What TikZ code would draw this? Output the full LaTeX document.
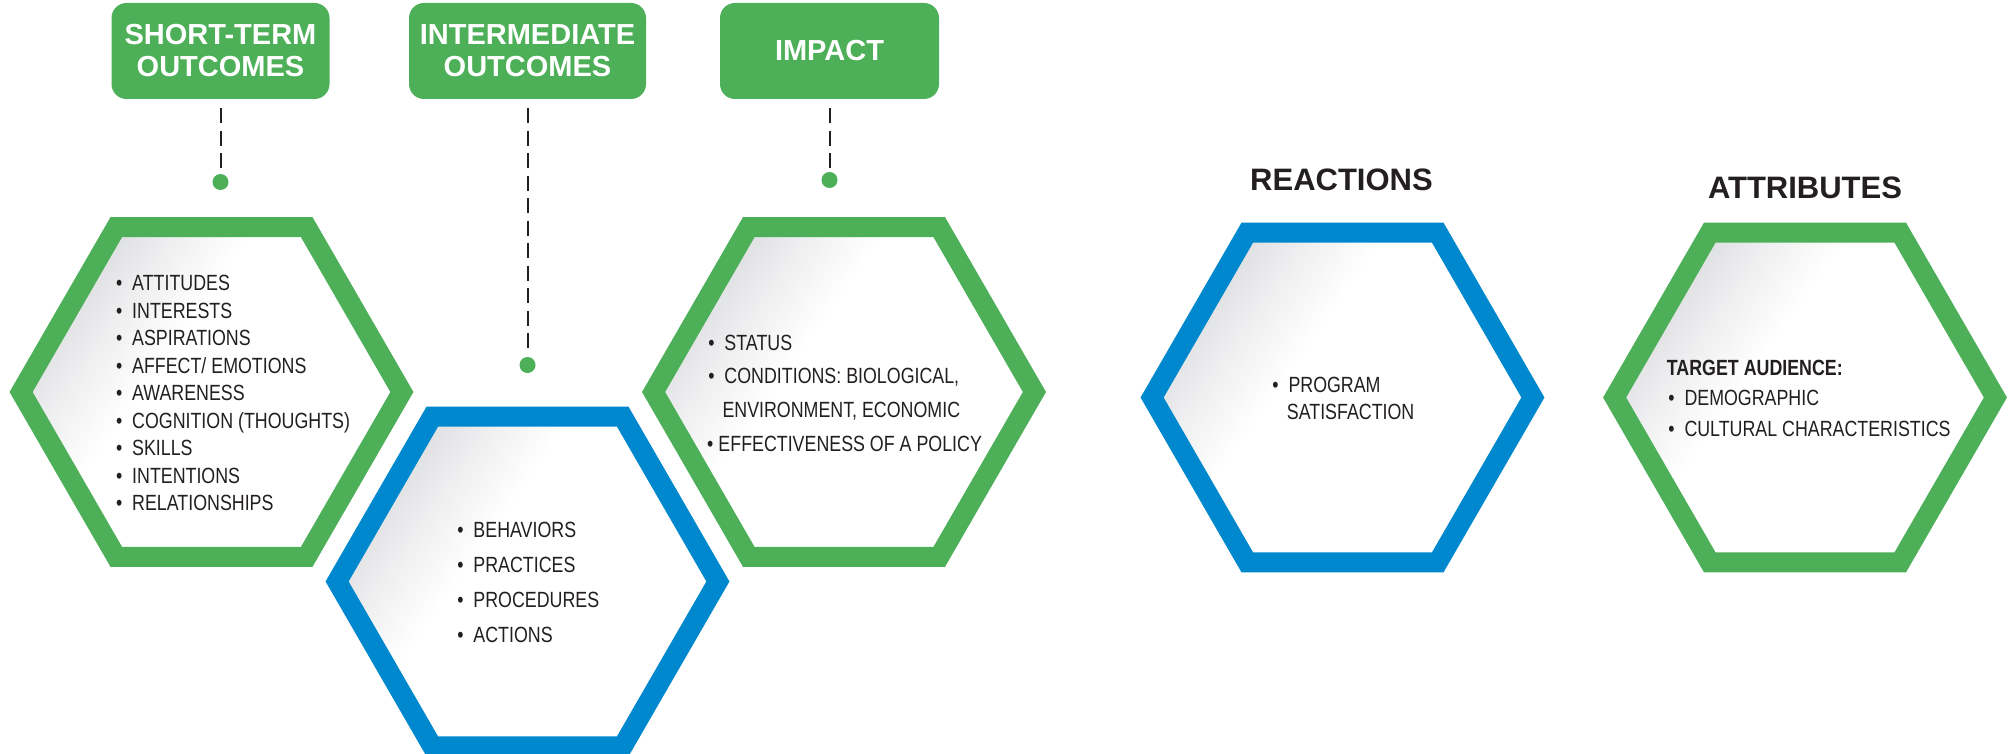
\documentclass[tikz,border=0pt]{standalone}
\usepackage{fontspec}
\setmainfont{Liberation Sans}
\newfontfamily\condf[FakeStretch=0.81]{Liberation Sans}
\definecolor{lgreen}{RGB}{77,176,88}
\definecolor{lblue}{RGB}{0,136,206}
\definecolor{ink}{RGB}{35,31,32}
\definecolor{hg}{RGB}{216,217,220}
\pgfdeclarehorizontalshading{hexshade}{100bp}{color(0bp)=(hg); color(24bp)=(hg); color(33bp)=(hg!45!white); color(42bp)=(white); color(100bp)=(white)}
\newcommand\blt{\llap{\textbullet\hspace{9.9pt}}}
\newcommand\bltb{\llap{\textbullet\hspace{5.2pt}}}
\tikzset{
  hdr/.style={fill=lgreen, rounded corners=15pt, text=white, font=\bfseries\fontsize{29}{32}\selectfont, align=center, inner sep=0pt},
  dashline/.style={draw=ink, line width=2pt, dash pattern=on 15pt off 7.5pt},
  gdot/.style={circle, fill=lgreen, minimum size=16pt, inner sep=0pt},
  listtext/.style={inner sep=0pt, anchor=base west, text=ink},
  hdtitle/.style={inner sep=0pt, anchor=base, text=ink, font=\bfseries\fontsize{31}{31}\selectfont},
  hexborder/.style={line width=20pt, line join=miter},
}
\begin{document}
\begin{tikzpicture}[x=1pt, y=-1pt]
\fill[white] (0,0) rectangle (2011,754);
\useasboundingbox (0,0) rectangle (2011,754);

% hexagons
\foreach \cx/\cy/\col/\nm in {211.5/392/lgreen/h1, 527.5/581.5/lblue/h2, 844/392/lgreen/h3, 1342.5/397.5/lblue/h4, 1805/397.5/lgreen/h5}{
  \begin{scope}[shift={(\cx,\cy)}]
    \coordinate (\nm) at (0,0);
    \shade[shading=hexshade, shading angle=-35] (-190.4,0) -- (-95.2,-164.9) -- (95.2,-164.9) -- (190.4,0) -- (95.2,164.9) -- (-95.2,164.9) -- cycle;
    \draw[hexborder, draw=\col] (-190.4,0) -- (-95.2,-164.9) -- (95.2,-164.9) -- (190.4,0) -- (95.2,164.9) -- (-95.2,164.9) -- cycle;
  \end{scope}
}

% header boxes
\node[hdr, minimum width=218pt, minimum height=96pt] (b1) at (220.5,51) {SHORT-TERM\\OUTCOMES};
\node[hdr, minimum width=237pt, minimum height=96pt] (b2) at (527.5,51) {INTERMEDIATE\\OUTCOMES};
\node[hdr, minimum width=219pt, minimum height=96pt] (b3) at (829.5,51) {IMPACT};

% dots and dashed connectors
\node[gdot] (d1) at (220.5,182) {};
\node[gdot] (d2) at (527.5,365) {};
\node[gdot] (d3) at (829.5,180) {};
\draw[dashline, shorten <=9pt, shorten >=6pt] (b1) -- (d1);
\draw[dashline, shorten <=9pt, shorten >=7pt] (b2) -- (d2);
\draw[dashline, shorten <=9pt, shorten >=4pt] (b3) -- (d3);

% titles
\node[hdtitle] (rt) at (1341.5,191) {REACTIONS};
\node[hdtitle] (att) at (1805,199) {ATTRIBUTES};

% lists
\node[listtext, font=\condf\fontsize{22}{27.5}\selectfont] (t1) at (132,290.7) {\begin{tabular}[t]{@{}l@{}}
\blt ATTITUDES\\
\blt INTERESTS\\
\blt ASPIRATIONS\\
\blt AFFECT/ EMOTIONS\\
\blt AWARENESS\\
\blt COGNITION (THOUGHTS)\\
\blt SKILLS\\
\blt INTENTIONS\\
\blt RELATIONSHIPS
\end{tabular}};

\node[listtext, font=\condf\fontsize{22}{35}\selectfont] (t2) at (473.3,537.7) {\begin{tabular}[t]{@{}l@{}}
\blt BEHAVIORS\\
\blt PRACTICES\\
\blt PROCEDURES\\
\blt ACTIONS
\end{tabular}};

\node[listtext, font=\condf\fontsize{22}{33.7}\selectfont] (t3) at (724.3,350) {\begin{tabular}[t]{@{}l@{}}
\blt STATUS\\
\blt CONDITIONS: BIOLOGICAL,\\
\hspace{-2pt}ENVIRONMENT, ECONOMIC\\
\hspace{-6pt}\bltb EFFECTIVENESS OF A POLICY
\end{tabular}};

\node[listtext, font=\condf\fontsize{22}{26.7}\selectfont] (t4) at (1288.3,392.3) {\begin{tabular}[t]{@{}l@{}}
\blt PROGRAM\\
\hspace{-1.6pt}SATISFACTION
\end{tabular}};

\node[listtext, font=\condf\fontsize{22}{30.8}\selectfont] (t5) at (1666.7,375) {\begin{tabular}[t]{@{}l@{}}
{\bfseries TARGET AUDIENCE:}\\
\hspace{17.6pt}\blt DEMOGRAPHIC\\
\hspace{17.6pt}\blt CULTURAL CHARACTERISTICS
\end{tabular}};
\end{tikzpicture}
\end{document}
